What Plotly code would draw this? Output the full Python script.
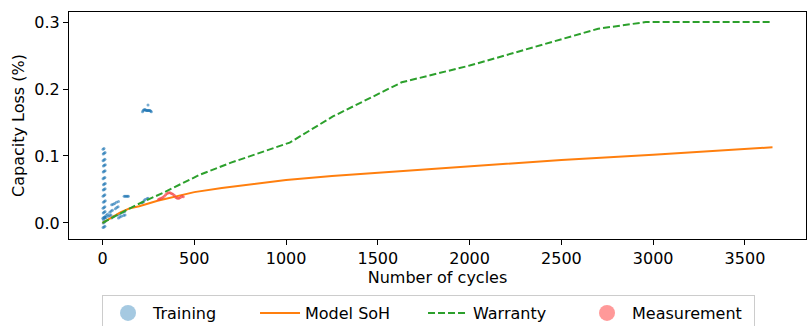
import plotly.graph_objects as go

# ---------------- data ----------------
# Training observations (cycles, capacity loss)
train_cycles = [
    # short slanted dashes stacked near cycle 0
    3, 8, 13,   4, 9, 14,   2, 7, 12,   4, 9, 14,   3, 8, 13,
    5, 10, 15,  3, 8, 13,   4, 9, 14,   5, 10, 15,  3, 8, 13,
    4, 9, 14,   5, 10, 15,  3, 8, 13,   4, 9, 14,   3, 8,
    # diagonal dashed groups
    13, 20, 27, 40, 47, 54, 70, 78, 85,
    5, 12, 19, 32, 39, 46,
    49, 56, 63, 80, 88, 96, 112, 121,
    50, 58, 66, 76, 87,
    87, 95, 103, 115, 123,
    118, 124, 130, 136, 141,
    214, 220, 226, 232, 242, 248,
    # cluster near the top
    218, 222, 226, 230, 234, 238, 242, 246, 250, 254, 258, 262, 266, 248,
]
train_loss = [
    -0.007, -0.006, -0.005,  0.000, 0.001, 0.002,  0.007, 0.008, 0.009,
    0.015, 0.016, 0.017,  0.022, 0.023, 0.024,
    0.031, 0.032, 0.033,  0.040, 0.041, 0.042,  0.049, 0.050, 0.051,
    0.057, 0.058, 0.059,  0.066, 0.067, 0.068,
    0.076, 0.077, 0.078,  0.085, 0.086, 0.087,  0.093, 0.094, 0.095,
    0.103, 0.104, 0.105,  0.110, 0.111,
    0.009, 0.011, 0.013, 0.016, 0.018, 0.019, 0.021, 0.023, 0.024,
    0.005, 0.007, 0.008, 0.010, 0.011, 0.012,
    0.0075, 0.009, 0.010, 0.012, 0.013, 0.014, 0.016, 0.017,
    0.027, 0.028, 0.029, 0.031, 0.032,
    0.0075, 0.009, 0.010, 0.011, 0.012,
    0.040, 0.040, 0.040, 0.040, 0.040,
    0.030, 0.031, 0.033, 0.035, 0.036, 0.037,
    0.166, 0.168, 0.169, 0.169, 0.169, 0.168, 0.168, 0.168, 0.168, 0.168, 0.168, 0.167, 0.166, 0.176,
]

# Model SoH curve
model_cycles = [0, 25, 50, 100, 150, 200, 300, 400, 500, 650, 800, 1000, 1250,
                1500, 1750, 2000, 2500, 3000, 3650]
model_loss = [0.0, 0.004, 0.008, 0.016, 0.022, 0.025, 0.033, 0.040, 0.046, 0.052,
              0.057, 0.064, 0.070, 0.075, 0.080, 0.085, 0.094, 0.102, 0.113]

# Warranty curve
warranty_cycles = [0, 185, 330, 530, 700, 1020, 1255, 1630, 2000, 2350, 2700, 2960, 3650]
warranty_loss = [0.0, 0.027, 0.045, 0.072, 0.090, 0.120, 0.159, 0.210, 0.235, 0.262,
                 0.290, 0.300, 0.300]

# Measurement observations
meas_cycles = [305, 312, 320, 328, 336, 344, 352, 360, 368, 376, 384, 392, 400, 408,
               416, 424, 432, 440]
meas_loss = [0.035, 0.036, 0.037, 0.038, 0.040, 0.042, 0.044, 0.045, 0.045, 0.044,
             0.043, 0.041, 0.038, 0.037, 0.037, 0.038, 0.040, 0.039]

x_ticks = [0, 500, 1000, 1500, 2000, 2500, 3000, 3500]
y_ticks = [0.0, 0.1, 0.2, 0.3]

# ---------------- figure ----------------
FONT = "DejaVu Sans"
fig = go.Figure()

fig.add_trace(go.Scatter(
    x=train_cycles, y=train_loss, mode="markers", showlegend=False,
    marker=dict(size=3, color="rgba(31,119,180,0.6)", line=dict(width=0)),
))
fig.add_trace(go.Scatter(
    x=model_cycles, y=model_loss, mode="lines", name="Model SoH",
    line=dict(color="#ff7f0e", width=2), legendrank=2, legendwidth=113,
))
fig.add_trace(go.Scatter(
    x=warranty_cycles, y=warranty_loss, mode="lines", name="Warranty",
    line=dict(color="#2ca02c", width=2, dash="7px,3px"), legendrank=3, legendwidth=104,
))
fig.add_trace(go.Scatter(
    x=meas_cycles, y=meas_loss, mode="markers", showlegend=False,
    marker=dict(size=3, color="rgba(245,70,70,0.7)", line=dict(width=0)),
))
# legend-only entries for the scatter series
fig.add_trace(go.Scatter(
    x=[None], y=[None], mode="markers", name="Training",
    marker=dict(size=16, color="rgba(31,119,180,0.4)", line=dict(width=0)),
    legendrank=1, legendwidth=97,
))
fig.add_trace(go.Scatter(
    x=[None], y=[None], mode="markers", name="Measurement",
    marker=dict(size=16, color="rgba(255,0,0,0.4)", line=dict(width=0)),
    legendrank=4, legendwidth=117,
))

axis_common = dict(
    showline=True, linecolor="black", linewidth=1, mirror=True,
    ticks="outside", ticklen=5, tickwidth=1, tickcolor="black",
    showgrid=False, zeroline=False,
    tickfont=dict(family=FONT, size=16, color="black"),
)

fig.update_xaxes(
    range=[-182.5, 3832.5], tickvals=x_ticks, ticktext=[str(v) for v in x_ticks],
    title=dict(text="Number of cycles", font=dict(family=FONT, size=16, color="black"), standoff=4),
    **axis_common,
)
fig.update_yaxes(
    range=[-0.024, 0.315], tickvals=y_ticks, ticktext=[f"{v:.1f}" for v in y_ticks],
    title=dict(text="Capacity Loss (%)", font=dict(family=FONT, size=16, color="black"), standoff=5),
    **axis_common,
)

fig.update_layout(
    width=810, height=326,
    margin=dict(l=69, r=4, t=12, b=87, autoexpand=False),
    plot_bgcolor="white", paper_bgcolor="white",
    font=dict(family=FONT, size=16, color="black"),
    legend=dict(
        orientation="h", x=0.0448, xanchor="left", y=-0.2467, yanchor="top",
        bordercolor="#cccccc", borderwidth=1, bgcolor="white",
        itemwidth=40, font=dict(family=FONT, size=16, color="black"),
        itemsizing="trace",
    ),
)

fig.write_html(
    "out.html",
    config={"displayModeBar": False},
    post_script="document.body.style.margin='0';document.body.style.padding='0';",
)
